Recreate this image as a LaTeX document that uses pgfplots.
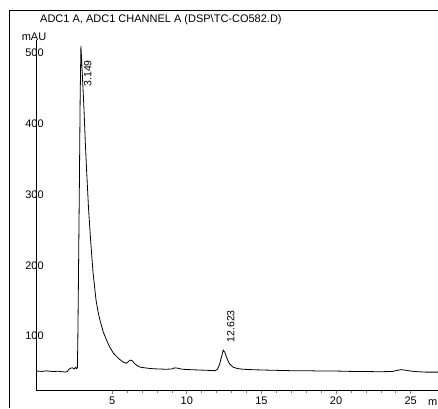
\documentclass[border=0pt]{standalone}
\usepackage{fontspec}
\setmainfont{Liberation Sans}
\usepackage{pgfplots}
\pgfplotsset{compat=1.18}
\begin{document}
\begin{tikzpicture}[x=1pt,y=1pt]
\begin{axis}[
  scale only axis, width=402pt, height=350pt,
  xmin=-0.1, xmax=26.83, ymin=23.7, ymax=518.4,
  axis x line=bottom, axis y line=left,
  axis line style={-, line width=0.8pt},
  xtick={5,10,15,20,25}, minor x tick num=4,
  ytick={100,200,300,400,500},
  tick align=outside,
  major tick length=4pt, minor tick length=3pt,
  ytick style={draw=none},
  xtick style={line width=0.6pt},
  /pgf/number format/assume math mode=true,
  every tick label/.append style={font=\fontsize{11}{13}\selectfont},
  yticklabel style={anchor=center, xshift=2.5pt},
  xticklabel style={yshift=1pt},
  clip=false,
]
\addplot[black, line width=0.8pt] coordinates {
(-0.1,50.5) (0.3,50) (0.6,50.8) (1.0,49.8) (1.4,50.2) (1.8,49.2) (2.0,49.5)
(2.06,52) (2.2,54.5) (2.35,55) (2.45,53.5) (2.55,55.5) (2.62,54) (2.67,55)
(2.70,90) (2.73,151) (2.80,300) (2.86,440) (2.91,510)
(2.98,480) (3.11,423) (3.20,375) (3.30,330) (3.42,280) (3.56,235)
(3.72,190) (3.92,151) (4.05,135) (4.19,122) (4.40,106) (4.63,94)
(4.85,84) (5.08,76) (5.30,71) (5.50,67) (5.75,63) (5.95,61.5)
(6.10,64) (6.20,66) (6.35,65) (6.50,61) (6.70,58) (6.87,56)
(7.2,55) (7.6,54) (8.0,53.5) (8.65,53) (9.0,53.5) (9.2,55) (9.4,54.5)
(9.7,53) (10.2,52.5) (10.8,52) (11.4,51.5) (11.9,51)
(12.05,53) (12.2,60) (12.32,70) (12.44,80) (12.55,77) (12.7,68)
(12.85,61) (13.1,56) (13.4,54) (13.8,53) (14.3,52.5) (15,52) (16,51.5)
(17,51) (18,51) (19,50.5) (20,50.5) (21,50) (22,49.8) (23,49.5)
(23.8,50) (24.1,51.5) (24.4,52.5) (24.7,51.5) (25.0,50.5) (25.5,49.5)
(26,49) (26.83,49)
};
\node[rotate=90, anchor=north east, inner sep=0, font=\fontsize{10.5}{12}\selectfont]
  at (axis cs:3.11,490) {3.149};
\node[rotate=90, anchor=north east, inner sep=0, font=\fontsize{10.5}{12}\selectfont]
  at (axis cs:12.69,136.7) {12.623};
\coordinate (O) at (rel axis cs:0,0);
\end{axis}
% page and frame, placed relative to the axis corner
\pgfresetboundingbox
\path[use as bounding box] ([shift={(-36,-18)}]O) rectangle ([shift={(402,390)}]O);
\draw[line width=0.8pt] ([shift={(-27,-18)}]O) -- ([shift={(-27,380)}]O) -- ([shift={(402,380)}]O);
\node[anchor=base west, inner sep=0, font=\fontsize{11}{13}\selectfont]
  at ([shift={(4,367)}]O) {ADC1 A, ADC1 CHANNEL A (DSP\textbackslash TC-CO582.D)};
\node[font=\fontsize{11}{13}\selectfont] at ([shift={(-2,353)}]O) {mAU};
\node[anchor=west, inner sep=0, font=\fontsize{11}{13}\selectfont] at ([shift={(392,-12)}]O) {min};
\end{tikzpicture}
\end{document}
